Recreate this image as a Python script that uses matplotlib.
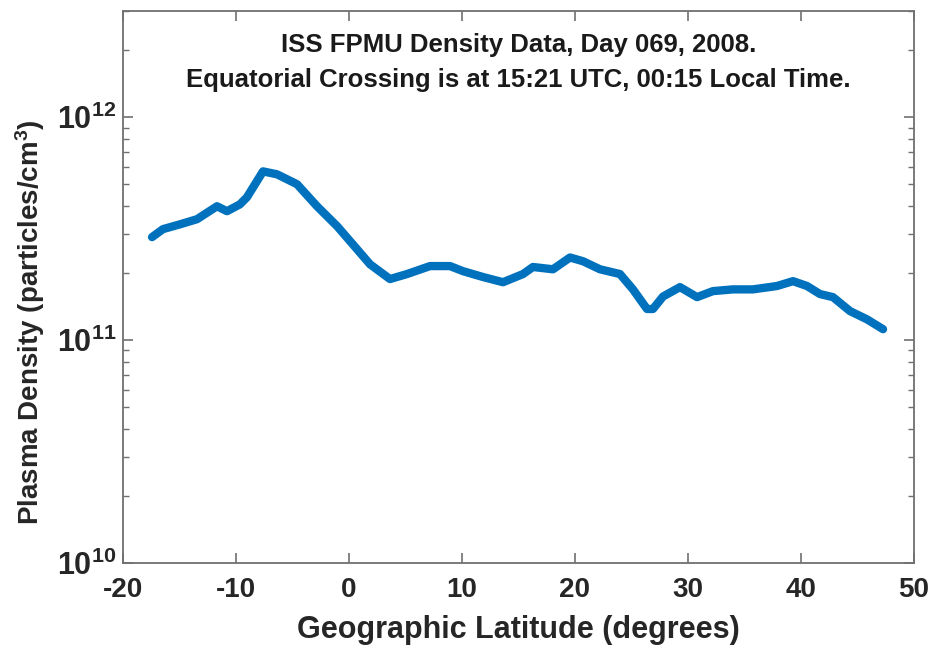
import matplotlib
matplotlib.use("Agg")
import matplotlib.pyplot as plt
from matplotlib.ticker import FixedLocator, FixedFormatter, NullFormatter

plt.rcParams['font.family'] = ['Liberation Sans', 'DejaVu Sans']
plt.rcParams['font.weight'] = 'bold'
plt.rcParams['axes.unicode_minus'] = False
plt.rcParams['mathtext.fontset'] = 'custom'
plt.rcParams['mathtext.rm'] = 'Liberation Sans:bold'
plt.rcParams['mathtext.bf'] = 'Liberation Sans:bold'
plt.rcParams['mathtext.it'] = 'Liberation Sans:bold'

# Data
latitude = [-17.43, -16.46, -14.96, -13.45, -11.68, -10.80, -9.65, -9.03, -7.61, -6.37,
            -4.60, -2.83, -1.06, 0.71, 1.86, 3.63, 5.13, 7.17, 8.94, 10.09,
            11.86, 13.63, 15.40, 16.28, 18.05, 19.56, 20.71, 22.21, 23.98, 25.13,
            26.37, 26.90, 27.79, 29.29, 30.80, 32.21, 33.98, 35.75, 37.88, 39.29,
            40.53, 41.68, 42.83, 44.34, 45.84, 47.26]
density = [2.90e11, 3.15e11, 3.31e11, 3.49e11, 3.99e11, 3.79e11, 4.07e11, 4.38e11, 5.72e11, 5.55e11,
           5.01e11, 3.99e11, 3.25e11, 2.56e11, 2.19e11, 1.88e11, 1.98e11, 2.15e11, 2.15e11, 2.04e11,
           1.92e11, 1.82e11, 1.98e11, 2.13e11, 2.08e11, 2.35e11, 2.26e11, 2.08e11, 1.98e11, 1.69e11,
           1.38e11, 1.38e11, 1.57e11, 1.73e11, 1.56e11, 1.66e11, 1.69e11, 1.69e11, 1.75e11, 1.84e11,
           1.75e11, 1.61e11, 1.56e11, 1.35e11, 1.24e11, 1.12e11]

x_ticks = [-20, -10, 0, 10, 20, 30, 40, 50]
y_ticks = [1e10, 1e11, 1e12]
y_tick_labels = [r'$10^{10}$', r'$10^{11}$', r'$10^{12}$']
title_lines = ["ISS FPMU Density Data, Day 069, 2008.",
               "Equatorial Crossing is at 15:21 UTC, 00:15 Local Time."]

fig = plt.figure(figsize=(9.32, 6.49), dpi=100)
ax = fig.add_axes([123/932, 1 - 563/649, 791/932, 552/649])

ax.plot(latitude, density, color='#0072BD', linewidth=6, solid_joinstyle='round',
        solid_capstyle='round')

ax.set_yscale('log')
ax.set_xlim(-20, 50)
ax.set_ylim(1e10, 3e12)

ax.xaxis.set_major_locator(FixedLocator(x_ticks))
ax.yaxis.set_major_locator(FixedLocator(y_ticks))
ax.yaxis.set_major_formatter(FixedFormatter(y_tick_labels))
ax.yaxis.set_minor_formatter(NullFormatter())

axis_col = '#707070'
for sp in ax.spines.values():
    sp.set_color(axis_col)
    sp.set_linewidth(1.3)
ax.tick_params(which='both', direction='in', top=True, right=True, colors=axis_col,
               labelcolor='#262626')
ax.tick_params(which='major', length=7, width=1.2)
ax.tick_params(which='minor', length=4, width=1.0)
ax.tick_params(axis='x', which='major', labelsize=20, pad=10)
ax.tick_params(axis='y', which='major', labelsize=22, pad=5)

ax.set_xlabel('Geographic Latitude (degrees)', fontsize=22, fontweight='bold',
              color='#262626', va='center')
ax.xaxis.set_label_coords(0.5, (563 - 630) / 552)
ax.set_ylabel(r'Plasma Density (particles/cm$^{3}$)', fontsize=20, fontweight='bold',
              color='#262626', va='center')
ax.yaxis.set_label_coords((30 - 123) / 791, (563 - 322) / 552)

ax.text(0.5, (563 - 45) / 552, title_lines[0], transform=ax.transAxes, ha='center',
        va='center', fontsize=18.5, fontweight='bold', color='#1a1a1a')
ax.text(0.5, (563 - 80) / 552, title_lines[1], transform=ax.transAxes, ha='center',
        va='center', fontsize=18.5, fontweight='bold', color='#1a1a1a')

fig.savefig('out.png', dpi=100)
